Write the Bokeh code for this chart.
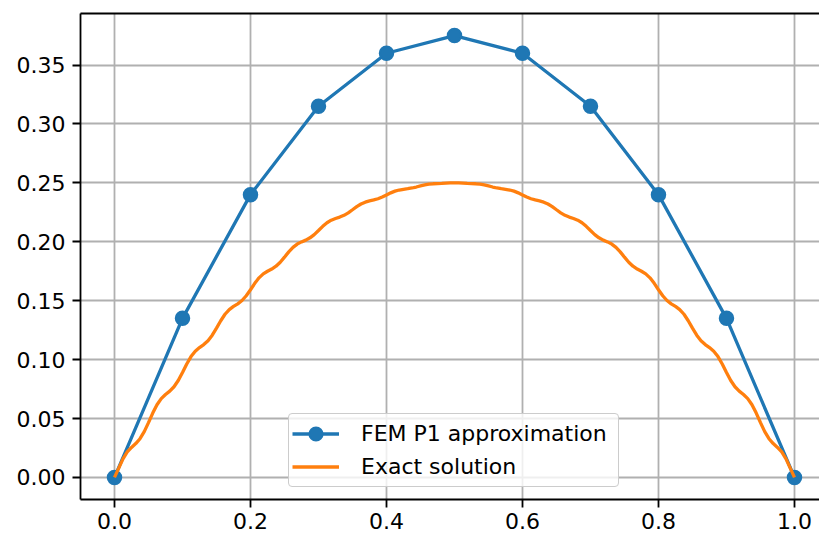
import numpy as np
from bokeh.plotting import figure
from bokeh.models import (Range1d, FixedTicker, NumeralTickFormatter, LinearAxis,
                          Legend, LegendItem)
from bokeh.embed import file_html
from bokeh.resources import INLINE

# P1 finite element nodal values
fem_x = [0.0, 0.1, 0.2, 0.3, 0.4, 0.5, 0.6, 0.7, 0.8, 0.9, 1.0]
fem_u = [0.0, 0.135, 0.24, 0.315, 0.36, 0.375, 0.36, 0.315, 0.24, 0.135, 0.0]

# exact solution sampled on a fine grid (161 points on [0, 1])
exact_x = np.linspace(0.0, 1.0, 161)
exact_u = [
    0.00000, 0.00787, 0.01578, 0.02157, 0.02546, 0.02870, 0.03284, 0.03883,
    0.04647, 0.05458, 0.06167, 0.06687, 0.07035, 0.07324, 0.07694, 0.08228,
    0.08909, 0.09628, 0.10257, 0.10716, 0.11023, 0.11278, 0.11604, 0.12074,
    0.12670, 0.13299, 0.13847, 0.14246, 0.14512, 0.14733, 0.15014, 0.15419,
    0.15931, 0.16470, 0.16937, 0.17275, 0.17500, 0.17687, 0.17925, 0.18265,
    0.18693, 0.19140, 0.19527, 0.19805, 0.19989, 0.20141, 0.20335, 0.20610,
    0.20954, 0.21311, 0.21616, 0.21834, 0.21978, 0.22096, 0.22245, 0.22456,
    0.22716, 0.22982, 0.23206, 0.23364, 0.23466, 0.23550, 0.23655, 0.23801,
    0.23977, 0.24153, 0.24296, 0.24393, 0.24455, 0.24504, 0.24565, 0.24647,
    0.24739, 0.24823, 0.24886, 0.24923, 0.24943, 0.24959, 0.24976, 0.24992,
    0.25000,
    0.24992, 0.24976, 0.24959, 0.24943, 0.24923, 0.24886, 0.24823, 0.24739,
    0.24647, 0.24565, 0.24504, 0.24455, 0.24393, 0.24296, 0.24153, 0.23977,
    0.23801, 0.23655, 0.23550, 0.23466, 0.23364, 0.23206, 0.22982, 0.22716,
    0.22456, 0.22245, 0.22096, 0.21978, 0.21834, 0.21616, 0.21311, 0.20954,
    0.20610, 0.20335, 0.20141, 0.19989, 0.19805, 0.19527, 0.19140, 0.18693,
    0.18265, 0.17925, 0.17687, 0.17500, 0.17275, 0.16937, 0.16470, 0.15931,
    0.15419, 0.15014, 0.14733, 0.14512, 0.14246, 0.13847, 0.13299, 0.12670,
    0.12074, 0.11604, 0.11278, 0.11023, 0.10716, 0.10257, 0.09628, 0.08909,
    0.08228, 0.07694, 0.07324, 0.07035, 0.06687, 0.06167, 0.05458, 0.04647,
    0.03883, 0.03284, 0.02870, 0.02546, 0.02157, 0.01578, 0.00787, 0.00000,
]

x_ticks = [0.0, 0.2, 0.4, 0.6, 0.8, 1.0]
y_ticks = [0.0, 0.05, 0.10, 0.15, 0.20, 0.25, 0.30, 0.35]

labels = ["FEM P1 approximation", "Exact solution"]

BLUE = "#1f77b4"
ORANGE = "#ff7f0e"
FONT = "DejaVu Sans"
FS = "22px"

p = figure(width=819, height=537, output_backend="svg", toolbar_location=None,
           x_range=Range1d(-0.05, 1.0368), y_range=Range1d(-0.01875, 0.39375),
           min_border_left=80, min_border_right=0, min_border_top=13,
           min_border_bottom=38)
p.outline_line_color = None
p.background_fill_color = "white"
p.border_fill_color = "white"

# grid
for g in (p.xgrid, p.ygrid):
    g.grid_line_color = "#b0b0b0"
    g.grid_line_width = 1.8
p.xgrid.ticker = FixedTicker(ticks=x_ticks)
p.ygrid.ticker = FixedTicker(ticks=y_ticks)

# axes styled like plain spines
for ax in (p.xaxis[0], p.yaxis[0]):
    ax.axis_line_color = "black"
    ax.axis_line_width = 1.8
    ax.major_tick_line_color = "black"
    ax.major_tick_line_width = 1.8
    ax.major_tick_out = 8
    ax.major_tick_in = 0
    ax.minor_tick_out = 0
    ax.minor_tick_in = 0
    ax.major_label_text_font = FONT
    ax.major_label_text_font_size = FS
    ax.major_label_text_color = "black"

p.xaxis[0].ticker = FixedTicker(ticks=x_ticks)
p.xaxis[0].formatter = NumeralTickFormatter(format="0.0")
p.xaxis[0].major_label_standoff = 5
p.yaxis[0].ticker = FixedTicker(ticks=y_ticks)
p.yaxis[0].formatter = NumeralTickFormatter(format="0.00")
p.yaxis[0].major_label_standoff = 7

# top spine
top = LinearAxis(ticker=FixedTicker(ticks=[]), major_label_text_font_size="0px",
                 major_tick_out=0, major_tick_in=0, minor_tick_out=0, minor_tick_in=0,
                 axis_line_color="black", axis_line_width=1.8)
p.add_layout(top, "above")

# curves
fem_line = p.line(fem_x, fem_u, line_color=BLUE, line_width=3.3)
fem_pts = p.scatter(fem_x, fem_u, marker="circle", size=13.5, fill_color=BLUE,
                    line_color=BLUE, line_width=2)
exact_line = p.line(exact_x, exact_u, line_color=ORANGE, line_width=3.3)

legend = Legend(items=[LegendItem(label=labels[0], renderers=[fem_line, fem_pts]),
                       LegendItem(label=labels[1], renderers=[exact_line])],
                location=(208, 12), orientation="vertical",
                glyph_width=47, glyph_height=33, label_height=24, label_width=254,
                label_standoff=22, padding=3, spacing=-2, margin=0,
                label_text_font=FONT, label_text_font_size=FS,
                label_text_color="black",
                border_line_color="#cccccc", border_line_width=1.8,
                border_line_alpha=1.0, border_radius=4,
                background_fill_color="white", background_fill_alpha=0.8)
p.add_layout(legend, "center")

open("out.html", "w").write(file_html(p, INLINE))
